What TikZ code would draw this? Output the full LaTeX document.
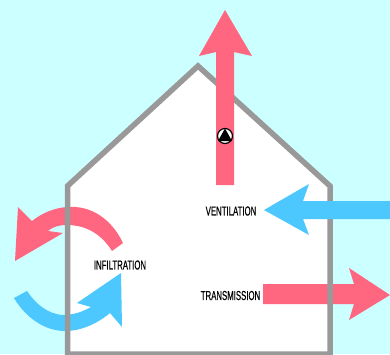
\documentclass[tikz,border=0pt]{standalone}
\usepackage{fontspec}
\setmainfont{Liberation Sans}
\newfontfamily\lblfont[FakeBold=0.4]{Liberation Sans}
\definecolor{skybg}{HTML}{CCFFFF}
\definecolor{warm}{HTML}{FF6680}
\definecolor{cool}{HTML}{4DC8FF}
\definecolor{wall}{HTML}{999999}
\tikzset{
  warmshape/.style={fill=warm,draw=none},
  coolshape/.style={fill=cool,draw=none},
  lbl/.style={font=\lblfont\fontsize{13}{13}\selectfont,text=black,inner sep=0pt,xscale=0.6}
}
\begin{document}
\begin{tikzpicture}[x=1pt,y=-1pt]
\useasboundingbox (0,0) rectangle (390,354);
\fill[skybg] (0,0) rectangle (390,354);
% house
\fill[white] (67.5,186) -- (198,66) -- (330,186) -- (330,354) -- (67.5,354) -- cycle;
% infiltration arrows
\fill[warmshape] (123,243) .. controls (112,220) and (92,205) .. (67,207)
  .. controls (54,208) and (42,213) .. (32,221) -- (18,207) -- (15,261)
  -- (63,233) -- (48,231) .. controls (54,226) and (60,225) .. (67,225)
  .. controls (87,225) and (102,235) .. (112,251) -- cycle;
\fill[coolshape] (14,298) .. controls (26,318) and (45,331) .. (65,331)
  .. controls (82,331) and (98,323) .. (110,313) -- (122,327) -- (121,273)
  -- (77,303) -- (91,307) .. controls (82,312) and (73,315) .. (63,315)
  .. controls (47,314) and (35,303) .. (27,291) -- cycle;
% transmission arrow, behind the wall
\fill[warmshape] (263,284) -- (354,284) -- (349,268) -- (390,295) -- (349,320) -- (354,304) -- (263,304) -- cycle;
% wall
\draw[wall,line width=5.5pt,line join=miter] (67.5,186) -- (198,66) -- (330,186) -- (330,354) -- (67.5,354) -- cycle;
% ventilation stack
\fill[warmshape] (216,185) -- (216,52) -- (199,56) -- (225,10) -- (252,56) -- (234,52) -- (234,185) -- cycle;
\filldraw[fill=white,draw=black,line width=1.2pt] (225,136) circle (7.5);
\fill[black] (225,128.5) -- (232,141) -- (218,141) -- cycle;
% ventilation arrow, over the wall
\fill[coolshape] (390,201) -- (303,201) -- (309,184) -- (264,210) -- (309,235) -- (303,219) -- (390,219) -- cycle;
% labels
\node[lbl] (ventilation) at (231,211) {VENTILATION};
\node[lbl] (infiltration) at (120,265) {INFILTRATION};
\node[lbl] (transmission) at (230.5,295.5) {TRANSMISSION};
\end{tikzpicture}
\end{document}
